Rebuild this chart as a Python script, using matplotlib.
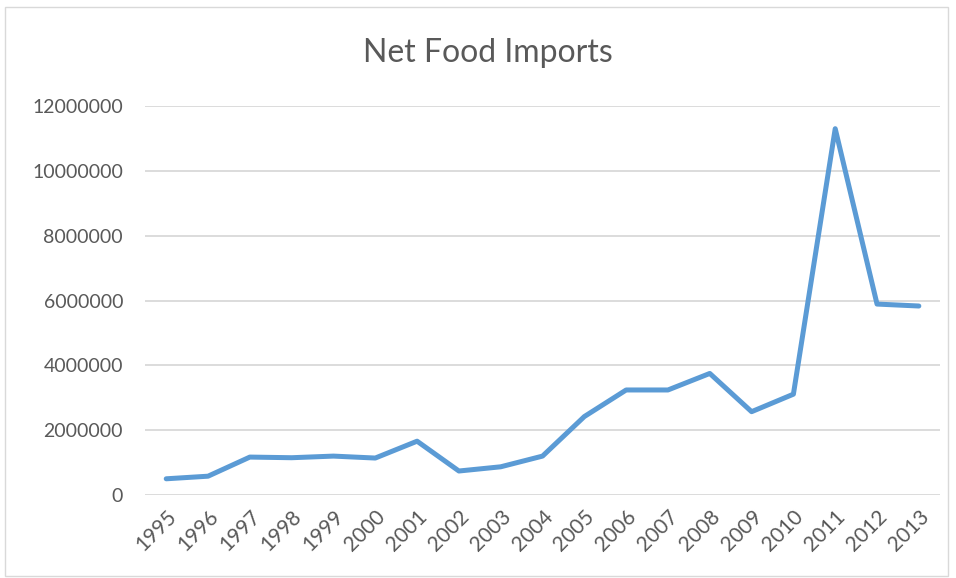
import matplotlib
matplotlib.use("Agg")
from matplotlib import pyplot as plt
from matplotlib.patches import Rectangle

# Net food imports by year
years = ['1995', '1996', '1997', '1998', '1999', '2000', '2001', '2002', '2003', '2004',
         '2005', '2006', '2007', '2008', '2009', '2010', '2011', '2012', '2013']
net_imports = [500000, 580000, 1170000, 1150000, 1200000, 1140000, 1660000, 740000, 870000, 1200000,
               2420000, 3240000, 3240000, 3750000, 2570000, 3110000, 11300000, 5890000, 5830000]
y_ticks = [0, 2000000, 4000000, 6000000, 8000000, 10000000, 12000000]

text_color = '#595959'
plt.rcParams['font.family'] = ['Lato', 'DejaVu Sans']

fig = plt.figure(figsize=(9.56, 5.78), dpi=100)
ax = fig.add_axes([0.152, 0.1436, 0.831, 0.673])

x = list(range(len(years)))
ax.plot(x, net_imports, color='#5B9BD5', linewidth=3.6, solid_joinstyle='round', solid_capstyle='round')

ax.set_xlim(-0.5, len(years) - 0.5)
ax.set_ylim(0, 12000000)
ax.set_yticks(y_ticks)
ax.set_yticklabels([str(v) for v in y_ticks])
ax.set_xticks(x)
ax.set_xticklabels(years, rotation=45, ha='right', va='top', rotation_mode='anchor')
ax.tick_params(axis='both', length=0, colors=text_color)
ax.tick_params(axis='y', pad=16, labelsize=14)
ax.tick_params(axis='x', pad=8, labelsize=15)
ax.yaxis.grid(True, color='#D9D9D9', linewidth=1.3)
ax.set_axisbelow(True)
for side in ['top', 'right', 'left', 'bottom']:
    ax.spines[side].set_visible(False)

fig.text(0.51, 0.908, 'Net Food Imports', ha='center', va='center', fontsize=23, color=text_color)

# light chart-area border
fig.patches.append(Rectangle((0.005, 0.003), 0.987, 0.985, transform=fig.transFigure,
                             fill=False, edgecolor='#D9D9D9', linewidth=1.0))

fig.savefig('out.png', dpi=100)
